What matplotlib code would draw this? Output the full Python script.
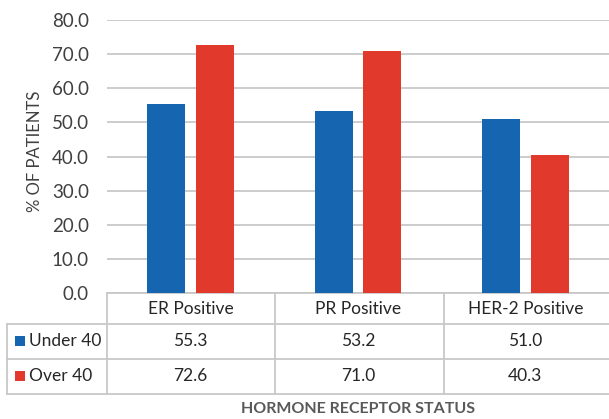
import numpy as np
import matplotlib.pyplot as plt
from matplotlib.patches import Rectangle
from matplotlib.lines import Line2D

plt.rcParams['font.family'] = ['Lato', 'DejaVu Sans']

categories = ['ER Positive', 'PR Positive', 'HER-2 Positive']
series_names = ['Under 40', 'Over 40']
under_40 = [55.3, 53.2, 51.0]
over_40 = [72.6, 71.0, 40.3]
y_ticks = [0, 10, 20, 30, 40, 50, 60, 70, 80]

blue = '#1665B1'
red = '#E1392B'
grid_grey = '#C8C8C8'
text_grey = '#404040'

W, H = 609, 419
fig = plt.figure(figsize=(W / 100, H / 100), dpi=100)

# plot area in pixels: x 107..609, y 20..293
ax_l, ax_r, ax_t, ax_b = 107, 609, 20, 293
ax = fig.add_axes([ax_l / W, 1 - ax_b / H, (ax_r - ax_l) / W, (ax_b - ax_t) / H])

x = np.arange(len(categories))
width = 0.228
off = 0.145
ax.bar(x - off, under_40, width, color=blue, zorder=3)
ax.bar(x + off, over_40, width, color=red, zorder=3)

ax.set_xlim(-0.5, len(categories) - 0.5)
ax.set_ylim(0, 80)
ax.set_yticks(y_ticks)
ax.set_yticklabels([f'{v:.1f}' for v in y_ticks], fontsize=13.5, color=text_grey)
ax.tick_params(axis='y', length=0, pad=13)
ax.set_xticks([])
ax.yaxis.grid(True, color=grid_grey, linewidth=1.3, zorder=0)
for s in ax.spines.values():
    s.set_visible(False)

fig.text(35 / W, 1 - 151 / H, '% OF PATIENTS', rotation=90, ha='center', va='center',
         fontsize=12, color=text_grey)

# data table below the plot, drawn in pixel-based axes coordinates
def ax_x(px):
    return (px - ax_l) / (ax_r - ax_l)

def ax_y(py):
    return (ax_b - py) / (ax_b - ax_t)

row_lines = [293, 324, 359, 394]
col_lines = [107, 275, 444]
left_edge = 7
line_kw = dict(color=grid_grey, linewidth=1.3, transform=ax.transAxes, clip_on=False)

ax.add_line(Line2D([ax_x(107), ax_x(609)], [ax_y(293), ax_y(293)], **line_kw))
for py in row_lines[1:]:
    ax.add_line(Line2D([ax_x(left_edge), ax_x(609)], [ax_y(py), ax_y(py)], **line_kw))
for px in col_lines:
    ax.add_line(Line2D([ax_x(px), ax_x(px)], [ax_y(293), ax_y(394)], **line_kw))
ax.add_line(Line2D([ax_x(left_edge), ax_x(left_edge)], [ax_y(324), ax_y(394)], **line_kw))

row_centers = [341, 376]
header_center = 309
for i, cat in enumerate(categories):
    ax.text(i, ax_y(header_center), cat, ha='center', va='center', fontsize=12.5,
            color='#262626', transform=ax.get_xaxis_transform(), clip_on=False)

for values, name, color, py in zip([under_40, over_40], series_names, [blue, red], row_centers):
    ax.add_patch(Rectangle((ax_x(15), ax_y(py + 5)), ax_x(25) - ax_x(15), ax_y(py - 5) - ax_y(py + 5),
                           facecolor=color, transform=ax.transAxes, clip_on=False))
    ax.text(ax_x(29), ax_y(py), name, ha='left', va='center', fontsize=12.5,
            color='#262626', transform=ax.transAxes, clip_on=False)
    for i, v in enumerate(values):
        ax.text(i, ax_y(py), f'{v:.1f}', ha='center', va='center', fontsize=12.5,
                color='#262626', transform=ax.get_xaxis_transform(), clip_on=False)

ax.text(0.5, ax_y(409), 'HORMONE RECEPTOR STATUS', ha='center', va='center', fontsize=11.5,
        fontweight='bold', color='#595959', transform=ax.transAxes, clip_on=False)

fig.savefig('out.png', dpi=100)
